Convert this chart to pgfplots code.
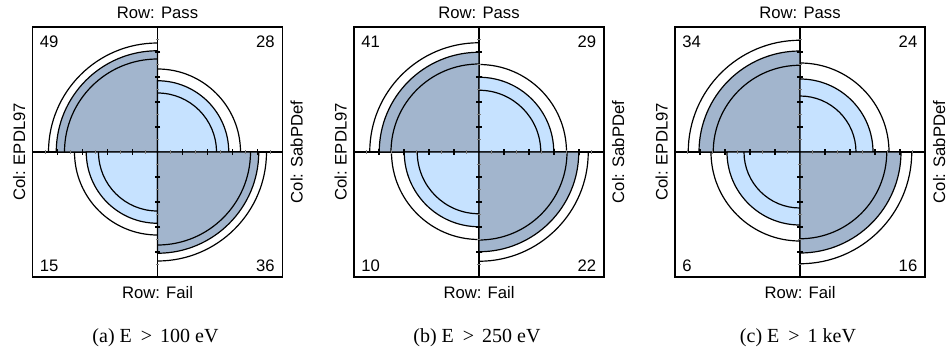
\documentclass[border=0pt]{standalone}
\usepackage{pgfplots}
\pgfplotsset{compat=1.18}
\usepackage{pgfplotstable}
\usepackage{fontspec}
\setmainfont{Liberation Sans}
\newfontfamily\capfont{Liberation Serif}

\definecolor{ffdark}{HTML}{A2B5CD}
\definecolor{fflight}{HTML}{C6E2FF}
\pgfdeclareplotmark{blank}{}

% one row per quadrant (TL, TR, BL, BR): start angle, lower ring, observed, upper ring, shade
% radii in units of half the box side
\pgfplotstableread{
x y ang rlo robs rhi shade
0 0 90  0.744 0.810 0.872 100
0 0 0   0.472 0.570 0.664 0
0 0 180 0.472 0.570 0.664 0
0 0 270 0.744 0.810 0.872 100
}\tabA
\pgfplotstableread{
x y ang rlo robs rhi shade
0 0 90  0.704 0.798 0.874 100
0 0 0   0.494 0.598 0.700 0
0 0 180 0.494 0.598 0.700 0
0 0 270 0.704 0.798 0.874 100
}\tabB
\pgfplotstableread{
x y ang rlo robs rhi shade
0 0 90  0.694 0.808 0.894 100
0 0 0   0.448 0.584 0.712 0
0 0 180 0.448 0.584 0.712 0
0 0 270 0.694 0.808 0.894 100
}\tabC

\def\ffu{93.75pt}

\pgfplotsset{
  fourfold/.style={
    x=\ffu, y=\ffu,
    xmin=-1, xmax=1, ymin=-1, ymax=1,
    xtick=\empty, ytick=\empty,
    axis line style={line width=0.9pt},
    clip=false,
    anchor=south west,
  },
  quarters/.style={
    scatter, only marks, mark=blank,
    point meta=\thisrow{shade},
    visualization depends on={\thisrow{ang} \as \qang},
    visualization depends on={\thisrow{rlo} \as \qlo},
    visualization depends on={\thisrow{robs} \as \qobs},
    visualization depends on={\thisrow{rhi} \as \qhi},
    visualization depends on={\thisrow{shade} \as \qshade},
    scatter/@pre marker code/.code={%
      \filldraw[fill=ffdark!\qshade!fflight, draw=black, line width=0.9pt]
        (0pt,0pt) -- (\qang:{\qobs*\ffu}) arc[start angle=\qang, delta angle=90, radius={\qobs*\ffu}] -- cycle;
      \draw[line width=0.9pt] (\qang:{\qlo*\ffu}) arc[start angle=\qang, delta angle=90, radius={\qlo*\ffu}];
      \draw[line width=0.9pt] (\qang:{\qhi*\ffu}) arc[start angle=\qang, delta angle=90, radius={\qhi*\ffu}];
    },
    scatter/@post marker code/.code={},
  },
}

% centre lines and their ticks
\newcommand\ffaxes{%
  \addplot[black, line width=0.8pt] coordinates {(-1,0) (1,0)};
  \addplot[black, line width=0.8pt] coordinates {(0,-1) (0,1)};
  \addplot[only marks, mark=|, mark size=1.9pt, mark options={black, line width=0.8pt}]
    coordinates {(-0.8,0) (-0.6,0) (-0.4,0) (-0.2,0) (0.2,0) (0.4,0) (0.6,0) (0.8,0)};
  \addplot[only marks, mark=|, mark size=1.2pt, mark options={gray, line width=0.6pt}]
    coordinates {(-0.9,0) (-0.7,0) (-0.5,0) (-0.3,0) (-0.1,0) (0.1,0) (0.3,0) (0.5,0) (0.7,0) (0.9,0)};
  \addplot[only marks, mark=-, mark size=1.9pt, mark options={black, line width=0.8pt}]
    coordinates {(0,-0.8) (0,-0.6) (0,-0.4) (0,-0.2) (0,0.2) (0,0.4) (0,0.6) (0,0.8)};
  \addplot[only marks, mark=-, mark size=1.2pt, mark options={gray, line width=0.6pt}]
    coordinates {(0,-0.9) (0,-0.7) (0,-0.5) (0,-0.3) (0,-0.1) (0,0.1) (0,0.3) (0,0.5) (0,0.7) (0,0.9)};
}

% labels: #1..#4 = counts TL, TR, BL, BR; #5 = caption
\newcommand\fflabels[5]{%
  \begin{scope}[font=\fontsize{12.5}{15}\selectfont]
  \node[anchor=base] at ([yshift=6.5pt]rel axis cs:0.5,1) {Row: Pass};
  \node[anchor=base] at ([yshift=-15.75pt]rel axis cs:0.5,0) {Row: Fail};
  \node[anchor=base, rotate=90] at ([xshift=-5.5pt]rel axis cs:0,0.5) {Col: EPDL97};
  \node[anchor=base, rotate=90] at ([xshift=15pt]rel axis cs:1,0.5) {Col: SabPDef};
  \node[anchor=north west, inner sep=0pt] at ([xshift=5.25pt, yshift=-6.4pt]rel axis cs:0,1) {#1};
  \node[anchor=north east, inner sep=0pt] at ([xshift=-5.6pt, yshift=-6.4pt]rel axis cs:1,1) {#2};
  \node[anchor=base west, inner sep=0pt] at ([xshift=5.25pt, yshift=4.5pt]rel axis cs:0,0) {#3};
  \node[anchor=base east, inner sep=0pt] at ([xshift=-5.6pt, yshift=4.5pt]rel axis cs:1,0) {#4};
  \end{scope}
  \node[anchor=base, font=\capfont\fontsize{15}{18}\selectfont]
    at ([xshift=-1.5pt, yshift=-48.75pt]rel axis cs:0.5,0) {#5};
}
\newcommand\gt{\hspace{0.2em}>\hspace{0.4em}}

\begin{document}
\begin{tikzpicture}
\path[use as bounding box] (0pt,0pt) rectangle (710.25pt,268.5pt);

\begin{axis}[fourfold, at={(24.375pt,60.75pt)}]
  \addplot[quarters] table {\tabA};
  \ffaxes
  \fflabels{49}{28}{15}{36}{(a) E \gt 100 eV}
\end{axis}

\begin{axis}[fourfold, at={(265.5pt,60.75pt)}]
  \addplot[quarters] table {\tabB};
  \ffaxes
  \fflabels{41}{29}{10}{22}{(b) E \gt 250 eV}
\end{axis}

\begin{axis}[fourfold, at={(506.25pt,60.75pt)}]
  \addplot[quarters] table {\tabC};
  \ffaxes
  \fflabels{34}{24}{6}{16}{(c) E \gt 1 keV}
\end{axis}
\end{tikzpicture}
\end{document}
